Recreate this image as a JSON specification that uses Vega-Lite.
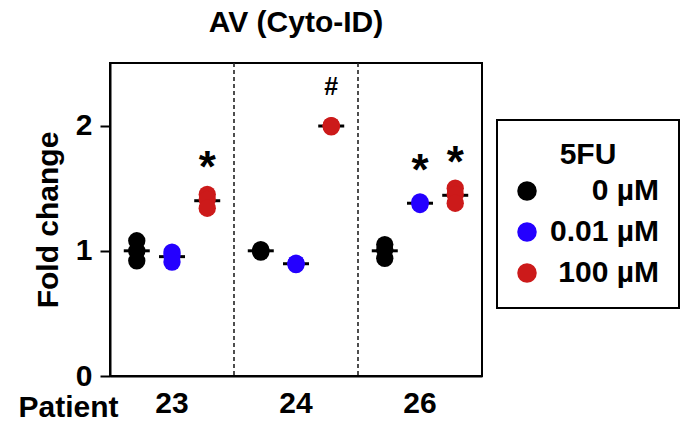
{
  "$schema": "https://vega.github.io/schema/vega-lite/v6.json",
  "width": 372,
  "height": 313,
  "autosize": {"type": "none"},
  "padding": {"left": 110, "top": 63, "right": 201, "bottom": 45},
  "background": "white",
  "config": {
    "font": "Liberation Sans",
    "view": {"stroke": "black", "strokeWidth": 2},
    "axis": {
      "labelFont": "Liberation Sans",
      "titleFont": "Liberation Sans",
      "labelFontWeight": "bold",
      "titleFontWeight": "bold",
      "labelColor": "black",
      "titleColor": "black",
      "domainColor": "black",
      "tickColor": "black",
      "grid": false
    }
  },
  "title": {
    "text": "AV (Cyto-ID)",
    "font": "Liberation Sans",
    "fontSize": 30,
    "fontWeight": "bold",
    "color": "black",
    "anchor": "middle",
    "offset": 24
  },
  "datasets": {
    "points": [
      {"patient": "23", "dose": "0 µM", "value": 1.08},
      {"patient": "23", "dose": "0 µM", "value": 1.0},
      {"patient": "23", "dose": "0 µM", "value": 0.92},
      {"patient": "23", "dose": "0.01 µM", "value": 0.99},
      {"patient": "23", "dose": "0.01 µM", "value": 0.96},
      {"patient": "23", "dose": "0.01 µM", "value": 0.91},
      {"patient": "23", "dose": "100 µM", "value": 1.45},
      {"patient": "23", "dose": "100 µM", "value": 1.41},
      {"patient": "23", "dose": "100 µM", "value": 1.34},
      {"patient": "24", "dose": "0 µM", "value": 1.01},
      {"patient": "24", "dose": "0 µM", "value": 1.0},
      {"patient": "24", "dose": "0 µM", "value": 0.99},
      {"patient": "24", "dose": "0.01 µM", "value": 0.9},
      {"patient": "24", "dose": "0.01 µM", "value": 0.89},
      {"patient": "24", "dose": "0.01 µM", "value": 0.9},
      {"patient": "24", "dose": "100 µM", "value": 2.0},
      {"patient": "24", "dose": "100 µM", "value": 1.99},
      {"patient": "24", "dose": "100 µM", "value": 2.0},
      {"patient": "26", "dose": "0 µM", "value": 1.05},
      {"patient": "26", "dose": "0 µM", "value": 1.01},
      {"patient": "26", "dose": "0 µM", "value": 0.94},
      {"patient": "26", "dose": "0.01 µM", "value": 1.38},
      {"patient": "26", "dose": "0.01 µM", "value": 1.39},
      {"patient": "26", "dose": "0.01 µM", "value": 1.37},
      {"patient": "26", "dose": "100 µM", "value": 1.5},
      {"patient": "26", "dose": "100 µM", "value": 1.45},
      {"patient": "26", "dose": "100 µM", "value": 1.38}
    ],
    "marks": [
      {"patient": "23", "dose": "100 µM", "value": 1.71, "label": "*"},
      {"patient": "24", "dose": "100 µM", "value": 2.31, "label": "#"},
      {"patient": "26", "dose": "0.01 µM", "value": 1.685, "label": "*"},
      {"patient": "26", "dose": "100 µM", "value": 1.75, "label": "*"}
    ],
    "separators": [
      {"patient": "24"},
      {"patient": "26"}
    ]
  },
  "layer": [
    {
      "data": {"name": "separators"},
      "mark": {"type": "rule", "strokeDash": [4, 3], "color": "#222222", "strokeWidth": 1.6},
      "encoding": {
        "x": {"field": "patient", "type": "nominal", "bandPosition": 0, "scale": {"domain": ["23", "24", "26"], "paddingInner": 0, "paddingOuter": 0}}
      }
    },
    {
      "data": {"name": "points"},
      "mark": {"type": "tick", "size": 26, "thickness": 3, "color": "black"},
      "encoding": {
        "x": {"field": "patient", "type": "nominal", "scale": {"domain": ["23", "24", "26"], "paddingInner": 0, "paddingOuter": 0},
          "axis": {"labelAngle": 0, "labelAlign": "center", "labelDx": -6, "ticks": false, "domainWidth": 2, "labelFontSize": 30, "labelPadding": 27,
            "title": "Patient", "titleFontSize": 30, "titleX": -92, "titleY": 40, "titleAlign": "left", "titleAnchor": "start", "titleBaseline": "alphabetic"}},
        "xOffset": {"field": "dose", "type": "nominal", "scale": {"domain": ["0 µM", "0.01 µM", "100 µM"], "paddingInner": 0, "paddingOuter": 0.26}},
        "y": {"aggregate": "mean", "field": "value", "type": "quantitative", "title": "Fold change",
          "scale": {"domain": [0, 2.5], "nice": false},
          "axis": {"values": [0, 1, 2], "format": "d", "labelFontSize": 30, "titleFontSize": 30, "tickSize": 10, "tickWidth": 2, "domainWidth": 2, "labelPadding": 8, "titlePadding": 12}}
      }
    },
    {
      "data": {"name": "points"},
      "mark": {"type": "circle", "size": 300, "opacity": 1},
      "encoding": {
        "x": {"field": "patient", "type": "nominal", "scale": {"domain": ["23", "24", "26"], "paddingInner": 0, "paddingOuter": 0}},
        "xOffset": {"field": "dose", "type": "nominal", "scale": {"domain": ["0 µM", "0.01 µM", "100 µM"], "paddingInner": 0, "paddingOuter": 0.26}},
        "y": {"field": "value", "type": "quantitative", "title": "Fold change"},
        "color": {"field": "dose", "type": "nominal",
          "scale": {"domain": ["0 µM", "0.01 µM", "100 µM"], "range": ["#000000", "#2400ff", "#cc1a1a"]},
          "legend": {"title": "5FU", "orient": "none", "legendX": 387, "legendY": 57,
            "strokeColor": "black", "padding": 20,
            "titleFont": "Liberation Sans", "titleFontSize": 30, "titleFontWeight": "bold", "titleColor": "black", "titleAnchor": "middle", "titlePadding": 6,
            "labelFont": "Liberation Sans", "labelFontSize": 30, "labelFontWeight": "bold", "labelColor": "black", "labelAlign": "right", "labelOffset": 117,
            "symbolType": "circle", "symbolSize": 380, "symbolOffset": -5, "symbolStrokeWidth": 0, "symbolOpacity": 1, "rowPadding": 11,
            "encode": {"legend": {"update": {"strokeWidth": {"value": 2}}}}}}
      }
    },
    {
      "data": {"name": "marks"},
      "transform": [{"filter": "datum.label === '*'"}],
      "mark": {"type": "text", "fontSize": 44, "fontWeight": "bold", "baseline": "alphabetic", "dy": 20, "color": "black"},
      "encoding": {
        "x": {"field": "patient", "type": "nominal", "scale": {"domain": ["23", "24", "26"], "paddingInner": 0, "paddingOuter": 0}},
        "xOffset": {"field": "dose", "type": "nominal", "scale": {"domain": ["0 µM", "0.01 µM", "100 µM"], "paddingInner": 0, "paddingOuter": 0.26}},
        "y": {"field": "value", "type": "quantitative", "title": "Fold change"},
        "text": {"field": "label"}
      }
    },
    {
      "data": {"name": "marks"},
      "transform": [{"filter": "datum.label === '#'"}],
      "mark": {"type": "text", "fontSize": 25, "fontWeight": "bold", "baseline": "alphabetic", "dy": 8, "color": "black"},
      "encoding": {
        "x": {"field": "patient", "type": "nominal", "scale": {"domain": ["23", "24", "26"], "paddingInner": 0, "paddingOuter": 0}},
        "xOffset": {"field": "dose", "type": "nominal", "scale": {"domain": ["0 µM", "0.01 µM", "100 µM"], "paddingInner": 0, "paddingOuter": 0.26}},
        "y": {"field": "value", "type": "quantitative", "title": "Fold change"},
        "text": {"field": "label"}
      }
    }
  ]
}
